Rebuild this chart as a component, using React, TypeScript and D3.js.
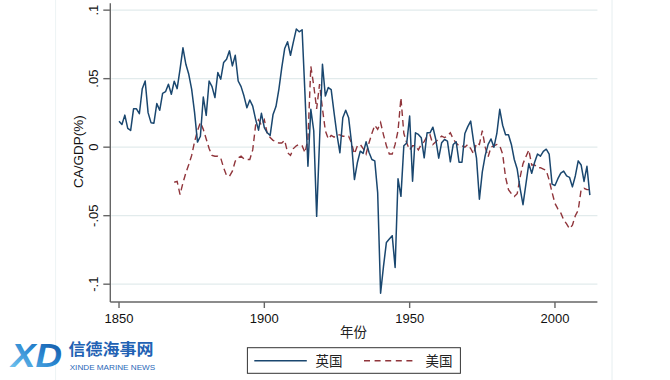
import React from 'react';
import * as d3 from 'd3';

const ukStart = 1850;
const ukValues = [
  0.019, 0.0166, 0.0234, 0.0137, 0.0122, 0.028, 0.028, 0.0244, 0.0427, 0.0483,
  0.0252, 0.0179, 0.0175, 0.0318, 0.0269, 0.0393, 0.0405, 0.0459, 0.0386, 0.0481,
  0.0427, 0.0569, 0.0725, 0.0605, 0.0532, 0.0422, 0.0252, 0.0037, 0.008, 0.0366,
  0.0232, 0.0483,
  0.0442, 0.0362, 0.0545, 0.0496, 0.0618, 0.0642, 0.0703, 0.0593, 0.0671, 0.0483,
  0.0442, 0.0373, 0.0288, 0.0344, 0.03, 0.0203, 0.0124, 0.0247, 0.0142, 0.0105,
  0.0086, 0.0239, 0.0296, 0.0422, 0.0581, 0.072, 0.0769, 0.0671, 0.0769, 0.0862,
  0.0842, 0.0857, 0.038, -0.0139,
  0.0276, 0.012, -0.0505, 0.005, 0.0605, 0.0373, 0.0435, 0.042, 0.025, 0.009,
  -0.0041, 0.0215, 0.0269, 0.0215, 0.0032, -0.0236, -0.0114, -0.0029, -0.0045, 0.0039,
  -0.0037, -0.009, -0.01, -0.0334, -0.1066, -0.087, -0.0695, -0.067, -0.0646, -0.0878,
  -0.0231, -0.0359, 0.001, 0.003,
  0.0227, -0.0249, 0.0105, 0.0093, 0.0068, -0.0078, 0.0105, 0.0105, 0.0146, 0.0056,
  -0.008, 0.0032, 0.0056, 0.0044, -0.0107, 0.002, 0.004, -0.011, -0.011, 0.01,
  0.015, 0.019, 0.004, -0.008, -0.038, -0.018, -0.006, 0.002, 0.006, 0.0,
  0.01, 0.0276,
  0.016, 0.009, 0.009, 0.002, -0.009, -0.016, -0.03, -0.042, -0.027, -0.012,
  -0.019, -0.011, -0.005, -0.0066, -0.003, -0.0015, -0.005, -0.027, -0.028, -0.023,
  -0.019, -0.0175, -0.021, -0.022, -0.029, -0.021, -0.01, -0.013, -0.025, -0.014,
  -0.035,
];

const usStart = 1869;
const usValues = [
  -0.0256, -0.0249, -0.0346, -0.026, -0.0187, -0.0127, -0.006, 0.004, 0.012, 0.018,
  0.013, 0.006, -0.001, -0.006, -0.0066, -0.0066, -0.008, -0.015, -0.0207, -0.0212,
  -0.0175, -0.0102, -0.0078, -0.0066, -0.0085, -0.009, -0.009, -0.002, 0.016, 0.02,
  0.016, 0.02, 0.01, 0.007, 0.005, 0.004, 0.003, 0.003, 0.005, -0.004,
  -0.006, -0.001, 0.001, 0.002, 0.001, -0.004, 0.006, 0.059, 0.045, 0.028,
  0.046, 0.028, 0.012, 0.006, 0.0086, 0.0073, 0.009, 0.009, 0.008, 0.008,
  0.008, 0.003, -0.005, 0.001, 0.002, -0.001, -0.005, 0.003, 0.01, 0.016,
  0.013, 0.018, 0.009, 0.001, -0.005, -0.005, 0.002, 0.012, 0.036, 0.01,
  0.003, -0.002, 0.001, 0.001, -0.002, 0.002, 0.004, 0.008, 0.009, 0.002,
  0.004, 0.006, 0.008, 0.007, 0.008, 0.0105, 0.006, 0.003, 0.001, 0.001,
  0.0, 0.002, -0.001, -0.005, 0.003, 0.002, 0.012, 0.0, -0.007, 0.0,
  0.001, 0.002, 0.001, -0.005, -0.022, -0.031, -0.034, -0.036, -0.034, -0.022,
  -0.012, -0.007, -0.002, -0.013, -0.013, -0.015, -0.015, -0.016, -0.017, -0.024,
  -0.033, -0.041, -0.045, -0.048, -0.053, -0.056, -0.0595, -0.057, -0.05, -0.046,
  -0.031, -0.03, -0.031, -0.031,
];

const yTicks = [-0.1, -0.05, 0, 0.05, 0.1];
const yTickLabels = ['-.1', '-.05', '0', '.05', '.1'];
const xTicks = [1850, 1900, 1950, 2000];
const seriesNames = ['英国', '美国'];
const yTitle = 'CA/GDP(%)';
const xTitle = '年份';

const LATIN = '"Liberation Sans", Arial, sans-serif';
const CJK = '"Noto Sans CJK SC", "Liberation Sans", sans-serif';
const NAVY = '#1a476f';
const MAROON = '#90353b';

export default function App() {
  const W = 670;
  const H = 380;
  const left = 110.3;
  const right = 597.4;
  const top = 3.3;
  const bottom = 302;
  const x = d3.scaleLinear().domain([1847, 2014.6]).range([left, right]);
  const y = d3.scaleLinear().domain([-0.113, 0.105]).range([bottom, top]);
  const line = d3
    .line<[number, number]>()
    .x((d) => x(d[0]))
    .y((d) => y(d[1]));
  const ukData: [number, number][] = ukValues.map((v, i) => [ukStart + i, v]);
  const usData: [number, number][] = usValues.map((v, i) => [usStart + i, v]);

  const legX = 247.4;
  const legY = 347.7;
  const legW = 213;
  const legH = 25.6;

  return (
    <svg
      width={W}
      height={H}
      viewBox={`0 0 ${W} ${H}`}
      style={{ position: 'absolute', left: 0, top: 0, background: '#fff' }}
    >
      <defs>
        <linearGradient id="xdgrad" x1="0" y1="1" x2="1" y2="0">
          <stop offset="0%" stopColor="#7fd0f5" />
          <stop offset="55%" stopColor="#2a86d0" />
          <stop offset="100%" stopColor="#0c4a9a" />
        </linearGradient>
      </defs>
      <rect x={0} y={0} width={W} height={H} fill="#fff" />
      <line x1={55.6} x2={55.6} y1={0} y2={H} stroke="#edf3f4" strokeWidth={1} />
      <line x1={612} x2={612} y1={0} y2={H} stroke="#e6eef0" strokeWidth={1} />

      {/* gridlines */}
      {yTicks.map((t) => (
        <line
          key={'g' + t}
          x1={left + 1}
          x2={right}
          y1={y(t)}
          y2={y(t)}
          stroke="#e2ebec"
          strokeWidth={1.3}
        />
      ))}

      {/* axes */}
      <line x1={left} x2={left} y1={top} y2={bottom} stroke="#666" strokeWidth={1.4} />
      <line x1={left} x2={right} y1={bottom} y2={bottom} stroke="#666" strokeWidth={1.4} />
      {yTicks.map((t, i) => (
        <g key={'yt' + t}>
          <line x1={left - 7} x2={left} y1={y(t)} y2={y(t)} stroke="#666" strokeWidth={1.4} />
          <text
            transform={`translate(${97.5},${y(t)}) rotate(-90)`}
            textAnchor="middle"
            fontFamily={LATIN}
            fontSize={13}
            fill="#111"
          >
            {yTickLabels[i]}
          </text>
        </g>
      ))}
      {xTicks.map((t) => (
        <g key={'xt' + t}>
          <line x1={x(t)} x2={x(t)} y1={bottom} y2={bottom + 6} stroke="#666" strokeWidth={1.4} />
          <text
            x={x(t)}
            y={323}
            textAnchor="middle"
            fontFamily={LATIN}
            fontSize={13}
            fill="#111"
          >
            {t}
          </text>
        </g>
      ))}
      <text
        transform={`translate(${82.5},${151.7}) rotate(-90)`}
        textAnchor="middle"
        fontFamily={LATIN}
        fontSize={13.5}
        fill="#111"
      >
        {yTitle}
      </text>
      <text x={353.5} y={337} textAnchor="middle" fontFamily={CJK} fontSize={13.5} fill="#222">
        {xTitle}
      </text>

      {/* series */}
      <path d={line(usData) || ''} fill="none" stroke={MAROON} strokeWidth={1.4} strokeDasharray="6.5,4" />
      <path d={line(ukData) || ''} fill="none" stroke={NAVY} strokeWidth={1.5} strokeLinejoin="round" />

      {/* legend */}
      <rect x={legX} y={legY} width={legW} height={legH} fill="#fff" stroke="#333" strokeWidth={1} />
      <line x1={254.3} x2={306.8} y1={360.7} y2={360.7} stroke={NAVY} strokeWidth={1.5} />
      <text x={315.4} y={366} fontFamily={CJK} fontSize={13.5} fill="#222">
        {seriesNames[0]}
      </text>
      <line
        x1={364}
        x2={416.7}
        y1={360.7}
        y2={360.7}
        stroke={MAROON}
        strokeWidth={1.4}
        strokeDasharray="6,4.6"
      />
      <text x={425.6} y={366} fontFamily={CJK} fontSize={13.5} fill="#222">
        {seriesNames[1]}
      </text>

      {/* watermark logo */}
      <text
        x={11}
        y={366.5}
        fontFamily={LATIN}
        fontWeight="bold"
        fontStyle="italic"
        fontSize={34}
        fill="url(#xdgrad)"
        textLength={51}
        lengthAdjust="spacingAndGlyphs"
      >
        XD
      </text>
      <text
        x={68.4}
        y={355}
        fontFamily={CJK}
        fontWeight="bold"
        fontSize={15.5}
        fill="#2262b4"
        textLength={85}
        lengthAdjust="spacingAndGlyphs"
      >
        信德海事网
      </text>
      <text
        x={69.7}
        y={369.5}
        fontFamily={LATIN}
        fontSize={8}
        fill="#2a68b8"
        textLength={85.5}
        lengthAdjust="spacingAndGlyphs"
      >
        XINDE MARINE NEWS
      </text>
    </svg>
  );
}
